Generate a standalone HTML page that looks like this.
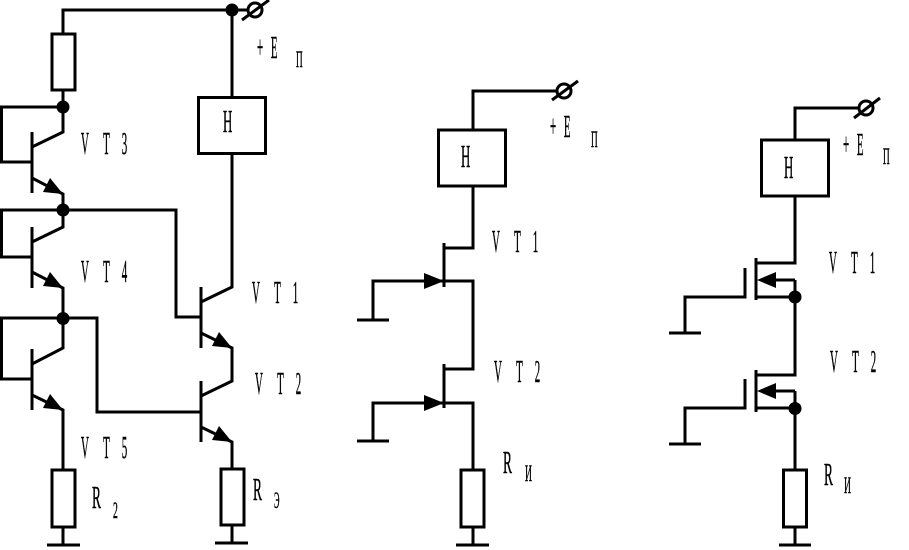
<!DOCTYPE html>
<html>
<head>
<meta charset="utf-8">
<style>
html,body{margin:0;padding:0;background:#fff;}
svg{display:block;}
.w{fill:none;stroke:#000;stroke-width:3;stroke-linejoin:miter;}
.r{fill:#fff;stroke:#000;stroke-width:3;}
text{font-family:"Liberation Serif",serif;font-size:32px;fill:#000;stroke:#000;stroke-width:.5px;}
.s{font-size:23px;}
</style>
</head>
<body>
<svg width="909" height="550" viewBox="0 0 909 550" xmlns="http://www.w3.org/2000/svg">
<!-- Left circuit wires -->
<path class="w" d="M63 34V10H232M232 10H248M232 10V97M232 153V287L201 302M201 287V348M201 333L232 348V381L201 396M201 381V442M201 427L232 442V469M232 525V543M215 543H248"/>
<path class="w" d="M63 90V132L32 147M32 132V193M32 178L63 194V227L32 242M32 227V288M32 272L63 288V348L32 364M32 349V410M32 395L63 410V470M63 527V545M47 545H80"/>
<path class="w" d="M63 107H1.5V162H32M63 210H1.5V257H32M63 210H176V317H201M63 318H1.5V379H32M63 318H97V412H201"/>
<rect class="r" x="52" y="34" width="23" height="56"/>
<rect class="r" x="52" y="470" width="23" height="57"/>
<rect class="r" x="198.500" y="97.500" width="67" height="56"/>
<rect class="r" x="221" y="469" width="23" height="56"/>
<circle cx="63" cy="107" r="6.500"/><circle cx="63" cy="210" r="6.500"/><circle cx="63" cy="318.500" r="6.500"/><circle cx="232" cy="10" r="6.500"/>
<circle cx="255" cy="10" r="7" fill="none" stroke="#000" stroke-width="3"/>
<path class="w" d="M242 20L269 0"/>
<!-- BJT arrows -->
<path d="M63 194L43 192L50 178Z"/><path d="M63 288L43 286L50 272Z"/><path d="M63 410L43 408L50 394Z"/><path d="M232 348L212 346L219 332Z"/><path d="M232 442L212 440L219 426Z"/>

<!-- Middle circuit -->
<path class="w" d="M557 91H473V130M473 186V248H444M444 243V287M373 320V281H473V369H444M444 364V408M373 441V403H473V470M473 527V545M357 320H389M357 441H389M456 545H489"/>
<rect class="r" x="438.500" y="130" width="67" height="56"/>
<rect class="r" x="461" y="470" width="23" height="57"/>
<circle cx="564" cy="91" r="7" fill="none" stroke="#000" stroke-width="3"/>
<path class="w" d="M552 100L578 81"/>
<path d="M444 281L424 273V289Z"/><path d="M444 403L424 395V411Z"/>

<!-- Right circuit -->
<path class="w" d="M860 108H795V140M795 196V263H756M756 258V300M745 268V298.500M745 297H685V333M669 333H701M756 297H795M795 280H770M795 280V375H756M756 370V412M745 379V409.500M745 408H685V444M669 444H701M756 408H795M795 391H770M795 391V470M795 527V545M779 545H811"/>
<rect class="r" x="761.500" y="140" width="67" height="56"/>
<rect class="r" x="783.500" y="470" width="23" height="57"/>
<circle cx="866" cy="108" r="7" fill="none" stroke="#000" stroke-width="3"/>
<path class="w" d="M854 118L880 98"/>
<circle cx="795" cy="297" r="6.500"/><circle cx="795" cy="408.500" r="6.500"/>
<path d="M757 280L776 272V288Z"/><path d="M757 391L776 383V399Z"/>

<!-- Labels -->
<g>
<text transform="translate(81,154) scale(.34,1)" x="0 65 120">VT3</text>
<text transform="translate(81,282) scale(.34,1)" x="0 65 120">VT4</text>
<text transform="translate(81,458) scale(.34,1)" x="0 65 120">VT5</text>
<text transform="translate(252,303) scale(.34,1)" x="0 65 120">VT1</text>
<text transform="translate(255,394) scale(.34,1)" x="0 65 120">VT2</text>
<text transform="translate(492,252) scale(.34,1)" x="0 65 120">VT1</text>
<text transform="translate(494,382) scale(.34,1)" x="0 65 120">VT2</text>
<text transform="translate(829,273) scale(.34,1)" x="0 65 120">VT1</text>
<text transform="translate(830,372) scale(.34,1)" x="0 65 120">VT2</text>

<text transform="translate(257,58) scale(.34,1)" x="0 41">+E</text>
<text class="s" transform="translate(296,67) scale(.4,1)">П</text>
<text transform="translate(550,137) scale(.34,1)" x="0 41">+E</text>
<text class="s" transform="translate(591,147) scale(.4,1)">П</text>
<text transform="translate(843,155) scale(.34,1)" x="0 41">+E</text>
<text class="s" transform="translate(883,164) scale(.4,1)">П</text>

<text transform="translate(223,132) scale(.4,1)">Н</text>
<text transform="translate(461,167) scale(.4,1)">Н</text>
<text transform="translate(784,178) scale(.4,1)">Н</text>

<text transform="translate(92,508) scale(.42,1)">R</text>
<text class="s" transform="translate(113,518) scale(.42,1)">2</text>
<text transform="translate(253,500) scale(.42,1)">R</text>
<text class="s" transform="translate(274,508) scale(.36,1)">Э</text>
<text transform="translate(503,473) scale(.42,1)">R</text>
<text class="s" transform="translate(525,481) scale(.42,1)">И</text>
<text transform="translate(824,485) scale(.42,1)">R</text>
<text class="s" transform="translate(844,493) scale(.42,1)">И</text>
</g>
</svg>
</body>
</html>
